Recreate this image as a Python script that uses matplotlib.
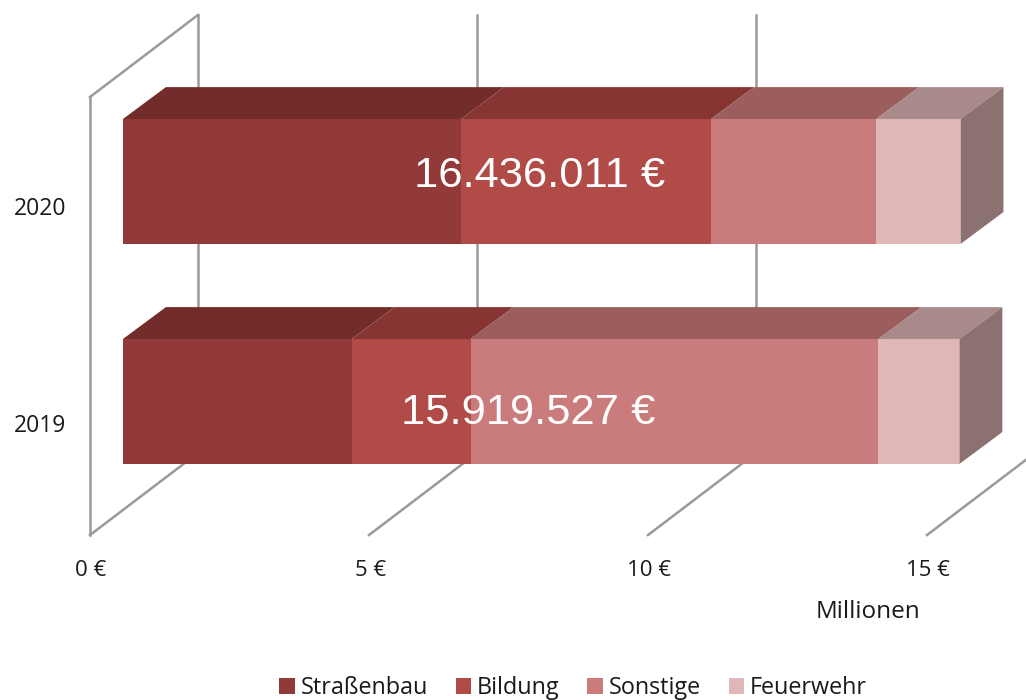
"""
3D-style stacked bars, drawn as polygons on a flat axes.
"""

import matplotlib.pyplot as plt
from matplotlib.patches import Patch, Polygon

years = ["2019", "2020"]
categories = ["Straßenbau", "Bildung", "Sonstige", "Feuerwehr"]
strassenbau = [4.10, 6.06]
bildung = [2.13, 4.48]
sonstige = [7.31, 2.96]
feuerwehr = [1.45, 1.51]
totals = ["15.919.527 €", "16.436.011 €"]
x_ticks = [0, 5, 10, 15]
x_tick_labels = ["0 €", "5 €", "10 €", "15 €"]

front_colors = ["#923939", "#B14B47", "#C97C7B", "#DFB7B6"]
top_colors = ["#722D2B", "#873533", "#9B5E5C", "#A98A8A"]
side_color = "#8C7171"
wall_color = "#9A9A9A"

# axis geometry in data units: x in millions, y in category steps
bar_start = 0.59
bar_half = 0.284
bar_dx = 0.77
bar_dy = 0.145
wall_dx = 1.935
wall_dy = 0.373
floor_y = -0.607
wall_top = 1.384

plt.rcParams["font.family"] = "Open Sans"

fig = plt.figure(figsize=(10.26, 7), dpi=100)
ax = fig.add_axes([0, 0, 1, 1])
ax.set_xlim(-90 / 55.8, 936 / 55.8)
ax.set_ylim(-298.5 / 220, 401.5 / 220)
ax.axis("off")

# walls and gridlines
line_style = dict(color=wall_color, linewidth=1.8, zorder=1)
ax.plot([0, 0], [floor_y, wall_top], **line_style)
ax.plot([0, wall_dx], [wall_top, wall_top + wall_dy], **line_style)
for tick, label in zip(x_ticks, x_tick_labels):
    ax.plot([tick, tick + wall_dx], [floor_y, floor_y + wall_dy], **line_style)
    ax.plot(
        [tick + wall_dx, tick + wall_dx],
        [floor_y + wall_dy, wall_top + wall_dy],
        **line_style,
    )
    ax.text(tick + 0.02, -0.77, label, ha="center", va="center", fontsize=16, color="#1A1A1A")

# stacked boxes
series = [strassenbau, bildung, sonstige, feuerwehr]
year_label_y = [-0.11, 0.875]
for i, year in enumerate(years):
    left = bar_start
    low, high = i - bar_half, i + bar_half
    for values, front, top in zip(series, front_colors, top_colors):
        right = left + values[i]
        ax.add_patch(
            Polygon(
                [(left, low), (right, low), (right, high), (left, high)],
                facecolor=front,
                edgecolor="none",
                zorder=3,
            )
        )
        ax.add_patch(
            Polygon(
                [
                    (left, high),
                    (right, high),
                    (right + bar_dx, high + bar_dy),
                    (left + bar_dx, high + bar_dy),
                ],
                facecolor=top,
                edgecolor="none",
                zorder=3,
            )
        )
        left = right
    ax.add_patch(
        Polygon(
            [
                (left, low),
                (left + bar_dx, low + bar_dy),
                (left + bar_dx, high + bar_dy),
                (left, high),
            ],
            facecolor=side_color,
            edgecolor="none",
            zorder=3,
        )
    )
    ax.text(-0.90, year_label_y[i], year, ha="center", va="center", fontsize=16.5, color="#1A1A1A")

# totals are white text over the bars
ax.text(7.85, 0 - 0.05, totals[0], ha="center", va="center", fontsize=31.3,
        color="white", family="Liberation Sans", zorder=4)
ax.text(8.05, 1 + 0.026, totals[1], ha="center", va="center", fontsize=31.3,
        color="white", family="Liberation Sans", zorder=4)

ax.text(13.94, -0.955, "Millionen", ha="center", va="center", fontsize=17.5, color="#1A1A1A")

handles = [Patch(facecolor=c, edgecolor="none") for c in front_colors]
ax.legend(
    handles,
    categories,
    loc="lower center",
    bbox_to_anchor=(0.5585, -0.03),
    ncol=4,
    frameon=False,
    fontsize=16.8,
    handlelength=0.65,
    handleheight=0.65,
    handletextpad=0.25,
    columnspacing=1.2,
    labelcolor="#1A1A1A",
)

fig.savefig("out.png", dpi=100)
plt.close(fig)
